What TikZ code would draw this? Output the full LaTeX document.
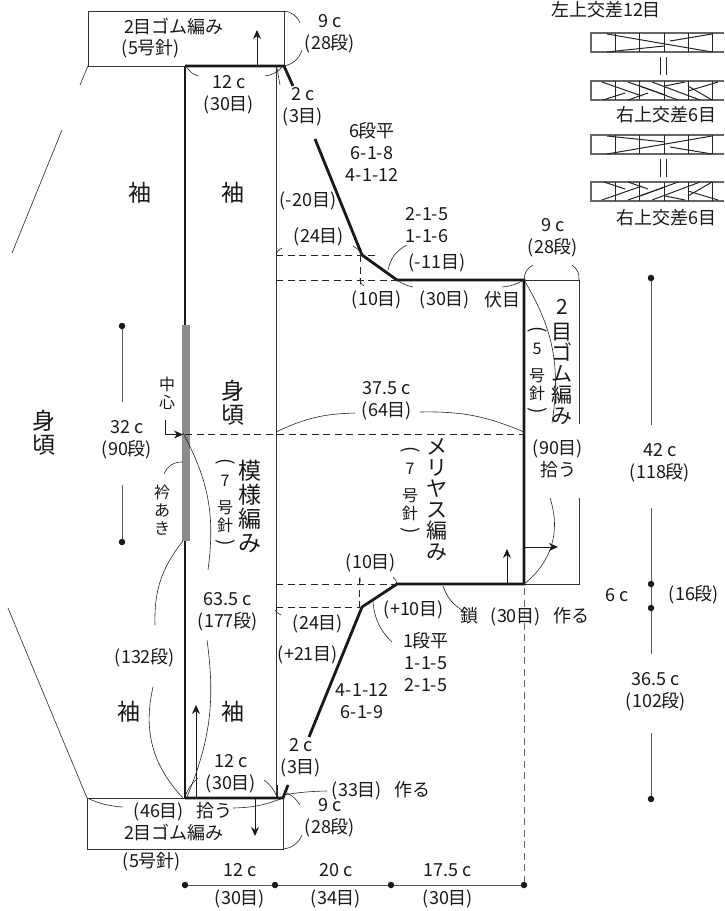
\documentclass[tikz,border=0pt]{standalone}
\usepackage{fontspec}
\setmainfont{Noto Sans CJK JP}
\usetikzlibrary{arrows.meta}
\tikzset{
  txt/.style={inner sep=0pt, text=black!90, align=center, font=\fontsize{18}{22}\selectfont},
  big/.style={inner sep=0pt, text=black!90, align=center, font=\fontsize{23}{24}\selectfont},
  tate/.style={inner sep=0pt, text=black!90, align=center, font=\fontsize{21}{21}\selectfont},
  small/.style={inner sep=0pt, text=black!90, align=center, font=\fontsize{16}{18}\selectfont},
  chart/.style={black!85, line width=1pt},
  body/.style={black!90, line width=2.8pt},
  outline/.style={black!80, line width=0.9pt},
  lead/.style={black!85, line width=0.6pt},
  cut/.style={black!85, line width=0.8pt, dash pattern=on 7pt off 4.5pt},
  arr/.style={black!90, line width=0.9pt, -{Stealth[length=9pt,width=8pt]}},
  dot/.style={circle, fill=black!90, inner sep=0pt, minimum size=6.5pt},
  dim/.style={black!65, line width=1pt}
}
\newcommand{\tl}{\scalebox{1.2}{\rotatebox[origin=c]{-90}{(}}}
\newcommand{\tr}{\scalebox{1.2}{\rotatebox[origin=c]{-90}{)}}}
\begin{document}
\begin{tikzpicture}[x=1pt, y=-1pt]
\useasboundingbox (0,0) rectangle (724,911);
% cuffs, sleeve and body
\draw[outline] (88,66) rectangle (284,11);
\draw[outline] (87,798) rectangle (283,849);
\draw[outline] (524,280) -- (579,280) -- (579,424);
\draw[outline] (579,498) -- (579,584) -- (524,584);
\draw[outline] (276,66) -- (276,798);
\draw[lead] (88,66) -- (80,85);
\draw[lead] (62,130) -- (12,253);
\draw[lead] (8,608) -- (87,798);
% thick outline
\draw[body] (185,66) -- (284,66) -- (293,86);
\draw[body] (315,139) -- (362,255) -- (397,280) -- (524,280) -- (524,584) -- (397,584) -- (362,607) -- (309,737);
\draw[body] (288,785) -- (283,798) -- (185,798);
\draw[body] (185,66) -- (185,798);
\fill[black!45] (181.5,325) rectangle (189.5,541);
% dashed lines
\draw[cut] (185,434) -- (524,434);
\draw[cut] (276,255) -- (375,255);
\draw[cut] (276,280) -- (397,280);
\draw[cut] (276,584) -- (397,584);
\draw[cut] (276,607) -- (362,607);
\draw[cut] (360,255) -- (360,284);
\draw[cut] (359,578) -- (359,607);
\draw[black!60, line width=0.8pt, dash pattern=on 7pt off 4.5pt] (524,588) -- (524,885);
% arrows
\draw[arr] (257,66) -- (257,30);
\draw[arr] (507,584) -- (507,549);
\draw[arr] (524,547) -- (558,547);
\draw[arr] (196,798) -- (196,705);
\draw[arr] (255,798) -- (255,836);
\draw[arr] (165,420) -- (165,434.5) -- (183,434.5);
% leader curves
\draw[lead] (284,11) to[bend left=30] (300,23);
\draw[lead] (284,66) to[bend right=30] (302,50);
\draw[lead] (186,66) to[bend right=20] (198,76);
\draw[lead] (283,66) to[bend left=20] (265,76);
\draw[lead] (277,68) -- (280,85);
\draw[lead] (276,254) to[bend left=20] (282,248);
\draw[lead] (353,246) to[bend left=15] (363,256);
\draw[lead] (360,278) to[bend right=30] (364,286);
\draw[lead] (388,270) to[bend left=25] (407,245);
\draw[lead] (397,280) to[bend right=12] (413,287);
\draw[lead] (524,280) to[bend left=12] (502,287);
\draw[lead] (524,280) to[bend left=30] (533,265);
\draw[lead] (579,280) to[bend right=30] (572,265);
\draw[lead] (524,280) to[bend left=20] (552,423);
\draw[lead] (550,498) to[bend left=35] (524,584);
\draw[lead] (276,432) to[bend left=12] (355,413);
\draw[lead] (420,412) to[bend left=12] (524,432);
\draw[lead] (360,577) to[bend left=20] (359,585);
\draw[lead] (393,577) to[bend left=20] (397,584);
\draw[lead] (373,602) to[bend right=20] (392,642);
\draw[lead] (443,586) to[bend right=20] (465,612);
\draw[lead] (275,610) to[bend right=15] (281,615);
\draw[lead] (358,614) to[bend right=15] (361,608);
\draw[lead] (183,433) to[bend left=18] (208,570);
\draw[lead] (183,462) to[bend right=35] (164,474);
\draw[lead] (183,541) to[bend right=20] (155,625);
\draw[lead] (153,687) to[bend right=28] (183,798);
\draw[lead] (207,640) to[bend left=15] (187,797);
\draw[lead] (185,797) to[bend left=15] (198,778);
\draw[lead] (264,780) to[bend left=15] (277,797);
\draw[lead] (277,785) -- (277,797);
\draw[lead] (283,795) to[bend left=4] (327,791);
\draw[lead] (287,793) to[bend left=15] (300,805);
\draw[lead] (283,849) to[bend right=30] (302,835);
\draw[lead] (87,798) to[bend right=10] (123,807);
\draw[lead] (283,798) to[bend left=10] (233,808);
% measures
\node[dot] (botA) at (185,885) {};
\node[dot] (botB) at (275,885) {};
\node[dot] (botC) at (391,885) {};
\node[dot] (botD) at (524,885) {};
\draw[dim] (botA) -- (botB) -- (botC) -- (botD);
\node[dot] (neckT) at (122,326) {};
\node[dot] (neckB) at (122,542) {};
\coordinate (neckU) at (122,402);
\coordinate (neckL) at (122,485);
\draw[dim] (neckT) -- (neckU);
\draw[dim] (neckL) -- (neckB);
\node[dot] (sideA) at (651,278) {};
\node[dot] (sideB) at (651,584) {};
\node[dot] (sideC) at (651,608) {};
\node[dot] (sideD) at (651,799) {};
\coordinate (sideU) at (651,425);
\coordinate (sideL) at (651,508);
\coordinate (sideM) at (651,654);
\coordinate (sideN) at (651,733);
\draw[dim] (sideA) -- (sideU);
\draw[dim] (sideL) -- (sideB) -- (sideC) -- (sideM);
\draw[dim] (sideN) -- (sideD);
% cable charts
\foreach \ya/\yb in {33/52, 81/100, 135/154, 182/201}{
  \draw[black!60, line width=1.2pt] (724,\ya) -- (591,\ya) -- (591,\yb) -- (724,\yb);
  \foreach \xa in {615,639,664,688,712}
    \draw[chart] (\xa,\ya) -- (\xa,\yb);
}
\foreach \xa/\ya/\xb/\yb in {607/34/712/52, 607/52/664/46, 670/41/712/34,
  607/154/712/136, 607/136/665/142, 670/147/712/154,
  602/82/642/96, 628/82/665/95, 640/86/678/100, 652/82/700/100, 688/86/712/100,
  603/100/625/93, 628/100/648/93, 665/86/685/82, 688/91/718/82,
  602/200/642/186, 628/200/665/187, 640/196/678/182, 652/200/700/182, 688/196/712/182,
  604/182/625/189, 628/182/648/189, 665/196/685/200, 688/191/718/200}
  \draw[chart] (\xa,\ya) -- (\xb,\yb);
\draw[chart] (660,57) -- (660,75);
\draw[chart] (666,57) -- (666,75);
\draw[chart] (660,159) -- (660,177);
\draw[chart] (666,159) -- (666,177);
% labels
\node[txt] (lCable) at (606,10) {左上交差12目};
\node[txt] (rCableA) at (666,115) {右上交差6目};
\node[txt] (rCableB) at (666,218) {右上交差6目};
\node[txt] (cuffT) at (174,27) {2目ゴム編み};
\node[txt] (needleT) at (151,49) {(5号針)};
\node[txt] (cuffHT) at (330,34) {9 c\\(28段)};
\node[txt] (wristT) at (229,95) {12 c\\(30目)};
\node[txt] (slopeT) at (303,107) {2 c\\(3目)};
\node[txt] (decA) at (372,152) {6段平\\6-1-8\\4-1-12};
\node[txt] (decB) at (308,201) {(-20目)};
\node[txt] (decC) at (319,237) {(24目)};
\node[txt] (decD) at (427,225) {2-1-5\\1-1-6};
\node[txt] (decE) at (437,263) {(-11目)};
\node[txt] (decF) at (377,300) {(10目)};
\node[txt] (decG) at (445,300) {(30目)};
\node[txt] (decH) at (502,300) {伏目};
\node[txt] (bandH) at (553,238) {9 c\\(28段)};
\node[txt] (width) at (387,401) {37.5 c\\(64目)};
\node[txt] (pick) at (558,459) {(90目)\\拾う};
\node[txt] (incA) at (371,563) {(10目)};
\node[txt] (incB) at (414,610) {(+10目)};
\node[txt] (incC) at (318,624) {(24目)};
\node[txt] (incD) at (308,655) {(+21目)};
\node[txt] (incE) at (426,662) {1段平\\1-1-5\\2-1-5};
\node[txt] (incF) at (362,701) {4-1-12\\6-1-9};
\node[txt] (chain) at (525,617) {鎖\hspace{12pt}(30目)\hspace{12pt}作る};
\node[txt] (length) at (228,612) {63.5 c\\(177段)};
\node[txt] (sleeve) at (145,658) {(132段)};
\node[txt] (wristB) at (231,774) {12 c\\(30目)};
\node[txt] (slopeB) at (301,758) {2 c\\(3目)};
\node[txt] (cast) at (381,791) {(33目)\hspace{12pt}作る};
\node[txt] (cuffHB) at (330,818) {9 c\\(28段)};
\node[txt] (pickB) at (183,812) {(46目)\hspace{12pt}拾う};
\node[txt] (cuffB) at (174,833) {2目ゴム編み};
\node[txt] (needleB) at (152,862) {(5号針)};
\node[txt] (botAB) at (240,886) {12 c\\[6pt](30目)};
\node[txt] (botBC) at (336,886) {20 c\\[6pt](34目)};
\node[txt] (botCD) at (448,886) {17.5 c\\[6pt](30目)};
\node[txt] (neckH) at (127,440) {32 c\\(90段)};
\node[txt] (sideH) at (660,463) {42 c\\(118段)};
\node[txt] (sideS) at (617,595) {6 c};
\node[txt] (sideR) at (694,595) {(16段)};
\node[txt] (sideK) at (656,692) {36.5 c\\(102段)};
\node[big] (sodeA) at (140,193) {袖};
\node[big] (sodeB) at (233,193) {袖};
\node[big] (sodeC) at (129,712) {袖};
\node[big] (sodeD) at (233,712) {袖};
\node[big] (miA) at (44,433) {身\\頃};
\node[big] (miB) at (233,403) {身\\頃};
\node[big] (moyo) at (250,507) {模\\様\\編\\み};
\node[small] (center) at (167,393) {中\\心};
\node[small] (eri) at (162,510) {衿\\あ\\き};
\node[small] (hariA) at (225,504) {\tl\\7\\[9pt]号\\針\\\tr};
\node[tate] (meri) at (437,500) {メ\\リ\\ヤ\\ス\\編\\み};
\node[small] (hariB) at (410,492) {\tl\\7\\[9pt]号\\針\\\tr};
\node[tate] (bandR) at (562,362) {2\\[4pt]目\\ゴ\\ム\\編\\み};
\node[small] (hariC) at (537,372) {\tl\\5\\[9pt]号\\針\\\tr};
\end{tikzpicture}
\end{document}
